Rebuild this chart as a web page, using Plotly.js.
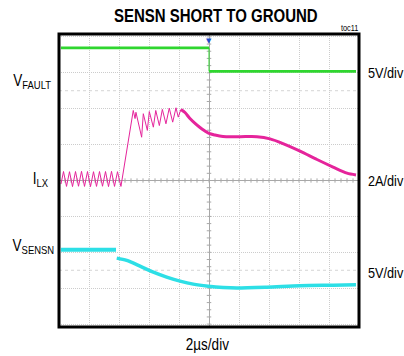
<!DOCTYPE html>
<html>
<head>
<meta charset="utf-8">
<script src="https://cdn.plot.ly/plotly-3.0.1.min.js"></script>
<style>
html,body{margin:0;padding:0;background:#fff;}
#chart{width:404px;height:356px;}
/* reference lettering is a narrow grotesque: condense the installed sans */
#chart .annotation-text.narrow, #chart .gtitle{transform-box:fill-box;transform-origin:50% 50%;transform:scaleX(0.82);}
</style>
</head>
<body>
<div id="chart"></div>
<script>
// ---- data (time in microseconds, trigger at 0) ----
const tFaultPre = [-9.87, 0];
const vFaultPre = [3.27, 3.27];                  // V
const tFaultPost = [0, 9.8];
const vFaultPost = [0, 0];                       // V

const tIlxSwitch = [-9.87, -9.7, -9.5, -9.3, -9.1, -8.9, -8.7, -8.5, -8.3, -8.1, -7.9, -7.7, -7.5, -7.3, -7.1, -6.9, -6.7, -6.5, -6.3, -6.1, -5.87,
  -5.05, -4.93, -4.87, -4.49, -4.38, -4.11, -3.98, -3.71, -3.55, -3.31, -3.11, -2.87, -2.65, -2.42, -2.2, -2.05, -1.87];
const iLxSwitch = [-0.2, 0.5, -0.33, 0.49, -0.34, 0.5, -0.32, 0.51, -0.33, 0.5, -0.34, 0.49, -0.33, 0.5, -0.32, 0.5, -0.34, 0.51, -0.33, 0.49, -0.33,
  3.9, 3.45, 3.8, 2.41, 3.72, 2.79, 3.84, 2.97, 3.9, 3.06, 3.96, 3.16, 4.03, 3.25, 4.05, 3.53, 3.96];   // A

const tIlxDecay = [-1.87, -1.6, -1.27, -0.93, -0.6, -0.27, 0, 0.4, 0.93, 2.07, 3.2, 4.07, 4.93, 6.07, 7.2, 8.27, 9.2, 9.8];
const iLxDecay = [3.96, 3.79, 3.45, 3.18, 2.95, 2.76, 2.62, 2.53, 2.45, 2.44, 2.44, 2.32, 2.06, 1.64, 1.17, 0.75, 0.41, 0.31]; // A

const tSensnPre = [-9.87, -6.2];
const vSensnPre = [3.16, 3.16];                  // V
const tSensnPost = [-6.15, -5.49, -4.6, -3.71, -2.82, -1.93, -1.05, -0.05, 0.95, 1.85, 3.85, 6.07, 8.27, 9.8];
const vSensnPost = [1.99, 1.67, 0.88, 0.04, -0.65, -1.21, -1.63, -1.91, -2.09, -2.16, -2.05, -1.85, -1.77, -1.71]; // V

const chTitle = 'SENSN SHORT TO GROUND';
const chNote = 'toc11';
const leftLabels = ['V<sub>FAULT</sub>', 'I<sub>LX</sub>', 'V<sub>SENSN</sub>'];
const rightLabels = ['5V/div', '2A/div', '5V/div'];
const timeLabel = '2µs/div';

// ---- channel scaling (units per division, ground offset in divisions) ----
const faultScale = 5, faultOffset = 3.04;
const ilxScale = 2, ilxOffset = 0;
const sensnScale = 5, sensnOffset = -2.56;
const toDiv = (arr, s, o) => arr.map(v => o + v / s);

const GREEN = '#2fd62f', MAGENTA = '#e5249b', CYAN = '#2ddfe6';

const faultPreDiv = toDiv(vFaultPre, faultScale, faultOffset);
const faultPostDiv = toDiv(vFaultPost, faultScale, faultOffset);

const traces = [
  {x: [tFaultPre[tFaultPre.length - 1], tFaultPost[0]], y: [faultPreDiv[faultPreDiv.length - 1], faultPostDiv[0]], mode: 'lines', line: {color: GREEN, width: 1}},
  {x: tFaultPre, y: faultPreDiv, mode: 'lines', line: {color: GREEN, width: 2.6}},
  {x: tFaultPost, y: faultPostDiv, mode: 'lines', line: {color: GREEN, width: 2.6}},
  {x: tIlxSwitch, y: toDiv(iLxSwitch, ilxScale, ilxOffset), mode: 'lines', line: {color: MAGENTA, width: 1}},
  {x: tIlxDecay, y: toDiv(iLxDecay, ilxScale, ilxOffset), mode: 'lines', line: {color: MAGENTA, width: 3, shape: 'spline', smoothing: 0.8}},
  {x: tSensnPre, y: toDiv(vSensnPre, sensnScale, sensnOffset), mode: 'lines', line: {color: CYAN, width: 4}},
  {x: tSensnPost, y: toDiv(vSensnPost, sensnScale, sensnOffset), mode: 'lines', line: {color: CYAN, width: 3.5, shape: 'spline', smoothing: 0.8}}
];

// ---- geometry ----
const W = 404, H = 356, ML = 59, MR = 45, MT = 34, MB = 29;
const PW = W - ML - MR, PH = H - MT - MB;
const px = x => (x - ML) / PW;
const py = y => (H - MB - y) / PH;

// centre-line minor ticks and half-division dotted lines
const shapes = [];
for (let k = -50; k <= 50; k++) {
  const t = k * 0.4;
  shapes.push({type: 'line', xref: 'x', yref: 'y', x0: t, x1: t, y0: -0.06, y1: 0.06, line: {color: '#a8a8a8', width: 1}, layer: 'below'});
}
for (let k = -20; k <= 20; k++) {
  const d = k * 0.2;
  shapes.push({type: 'line', xref: 'x', yref: 'y', x0: -0.15, x1: 0.15, y0: d, y1: d, line: {color: '#a8a8a8', width: 1}, layer: 'below'});
}
[2.5, -2.5].forEach(d => shapes.push({type: 'line', xref: 'paper', yref: 'y', x0: 0, x1: 1, y0: d, y1: d, line: {color: '#d4d4d4', width: 1, dash: 'dot'}, layer: 'below'}));
shapes.push({type: 'rect', xref: 'paper', yref: 'paper', x0: 0, x1: 1, y0: 0, y1: 1, line: {color: '#000', width: 3}, layer: 'above'});

const FONT = 'Liberation Sans, Arial, sans-serif';
const ann = (text, x, y, size) => ({
  text: text, xref: 'paper', yref: 'paper', x: px(x), y: py(y), xanchor: 'center', yanchor: 'middle',
  showarrow: false, font: {family: FONT, size: size, color: '#000'}
});

const annotations = [
  ann(chNote, 349, 27.5, 9),
  ann(leftLabels[0], 31.8, 81, 16.5),
  ann(leftLabels[1], 40.7, 179, 16.5),
  ann(leftLabels[2], 33.5, 246, 16.5),
  ann(rightLabels[0], 385.3, 72.5, 15.5),
  ann(rightLabels[1], 385.5, 180, 15.5),
  ann(rightLabels[2], 385.3, 272, 15.5),
  ann(timeLabel, 207.7, 344.5, 16.5),
  {text: '▼', xref: 'x', yref: 'paper', x: 0, y: 1, xanchor: 'center', yanchor: 'top', yshift: -1, showarrow: false,
   font: {family: 'DejaVu Sans', size: 7, color: '#1f4fd0'}}
];

const axisCommon = {showticklabels: false, ticks: '', showline: false, zeroline: true, zerolinecolor: '#a8a8a8', zerolinewidth: 1,
  showgrid: true, gridcolor: '#cccccc', gridwidth: 1, griddash: '1px,1px', fixedrange: true};

const layout = {
  width: W, height: H, margin: {l: ML, r: MR, t: MT, b: MB},
  paper_bgcolor: '#fff', plot_bgcolor: '#fff', showlegend: false,
  title: {text: chTitle, xref: 'container', yref: 'container', x: 215.8 / W, y: 1 - 15.5 / H, xanchor: 'center', yanchor: 'middle',
    font: {family: FONT, size: 18.3, weight: 'bold', color: '#000'}},
  xaxis: Object.assign({range: [-10, 10], dtick: 2, tick0: 0}, axisCommon),
  yaxis: Object.assign({range: [-4.08, 4.08], dtick: 1, tick0: 0}, axisCommon),
  shapes: shapes, annotations: annotations
};

Plotly.newPlot('chart', traces, layout, {displayModeBar: false, staticPlot: true}).then(gd => {
  // mark the lettering annotations (all but the trigger marker) for condensing
  gd.querySelectorAll('.annotation-text').forEach(el => {
    if (el.textContent !== '▼') el.classList.add('narrow');
  });
});
</script>
</body>
</html>
